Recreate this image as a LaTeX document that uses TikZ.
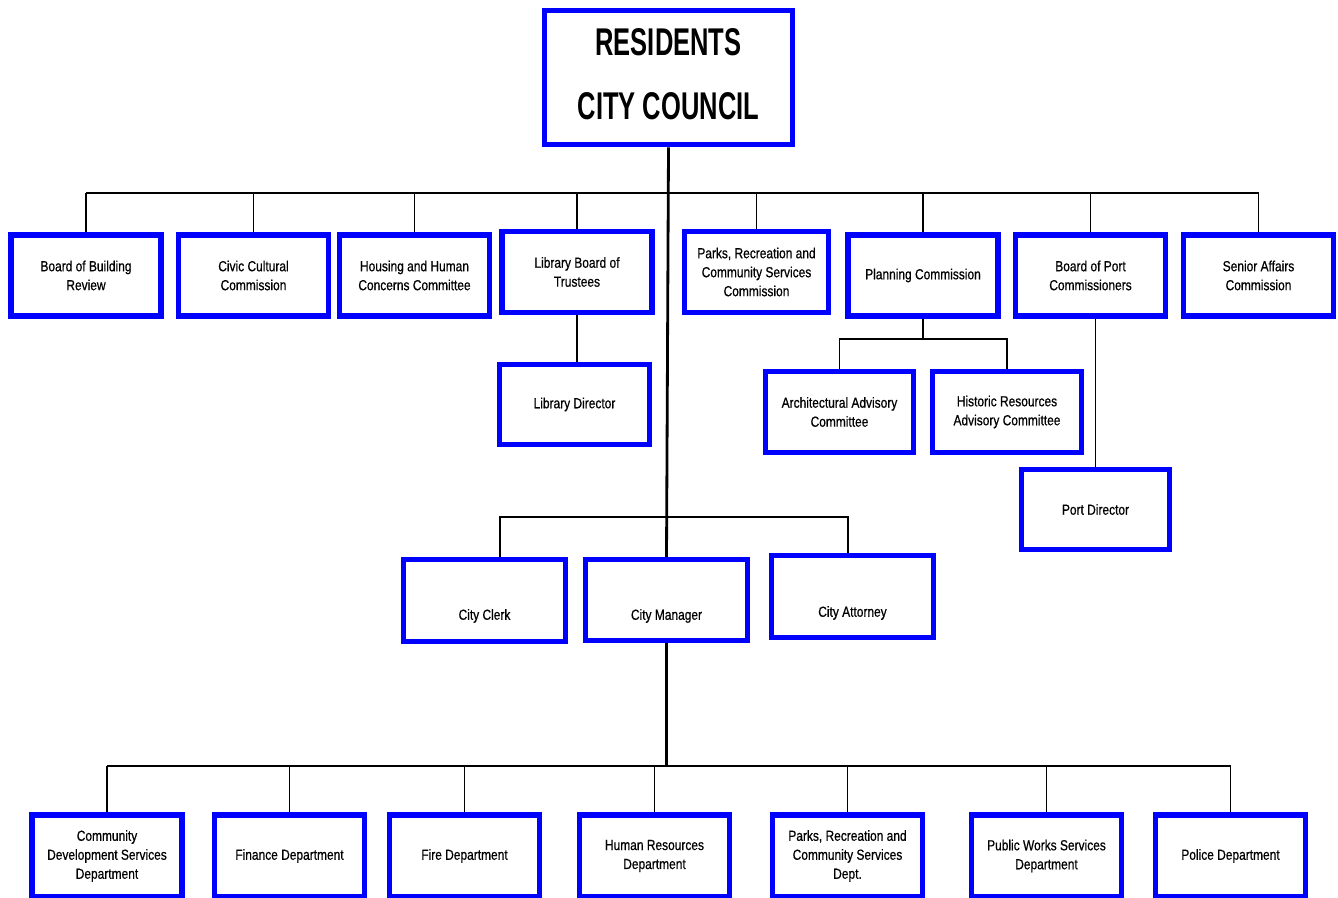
\documentclass[tikz,border=0pt]{standalone}
\usepackage{fontspec}
\usepackage{tikz}
\usetikzlibrary{positioning}
\newfontfamily\orgfont[FakeStretch=0.82,FakeBold=0.6]{Liberation Sans}
\newfontfamily\headfont[FakeStretch=0.66]{Liberation Sans}

\begin{document}
\begin{tikzpicture}[
    x=0.02cm, y=-0.02cm, % pixel grid of the chart
    box/.style={draw=blue, line width=3pt, fill=white, minimum width=3cm,
      minimum height=1.62cm, inner sep=1pt, align=center,
      font=\orgfont\fontsize{8.3}{10.8}\selectfont},
    txt/.style={align=center, font=\orgfont\fontsize{8.3}{10.8}\selectfont},
    dept/.style={box, minimum height=1.64cm},
    bus/.style={line width=1.6pt},
    drop/.style={line width=0.8pt}
  ]
  \useasboundingbox (0,0) rectangle (1338,898);
  %% top
  \node[box, line width=3.2pt, minimum width=4.96cm, minimum height=2.68cm,
    label={[font=\headfont\bfseries\fontsize{22}{26}\selectfont,align=center,yshift=0.06cm]center:RESIDENTS\\[0.36cm]CITY COUNCIL}]
    (council) at (668.5,77.5) {};
  %% boards and commissions
  \node[box] (b1) at (86,275.5) {Board of Building\\Review};
  \node[box] (b2) at (253.5,275.5) {Civic Cultural\\Commission};
  \node[box] (b3) at (414.5,275.5) {Housing and Human\\Concerns Committee};
  \node[box] (b4) at (577,272) {Library Board of\\Trustees};
  \node[box, minimum width=2.88cm] (b5) at (756.5,272) {Parks, Recreation and\\Community Services\\Commission};
  \node[box] (b6) at (923,275.5) {Planning Commission};
  \node[box] (b7) at (1090.5,275.5) {Board of Port\\Commissioners};
  \node[box] (b8) at (1258.5,275.5) {Senior Affairs\\Commission};
  \node[box, minimum height=1.6cm] (libdir) at (574.5,404.5) {Library Director};
  \node[box, minimum width=2.96cm] (arch) at (839.5,412) {Architectural Advisory\\Committee};
  \node[box, minimum width=2.98cm] (hist) at (1007,412) {Historic Resources\\Advisory Committee};
  \node[box, minimum width=2.96cm, minimum height=1.6cm] (portdir) at (1095.5,509.5) {Port Director};
  %% officers
  \node[box, minimum width=3.24cm, minimum height=1.64cm,
    label={[txt,yshift=-0.31cm]center:City Clerk}] (clerk) at (484.5,600.5) {};
  \node[box, minimum width=3.24cm, minimum height=1.62cm,
    label={[txt,yshift=-0.32cm]center:City Manager}] (cmgr) at (666.5,600) {};
  \node[box, minimum width=3.24cm, minimum height=1.64cm,
    label={[txt,yshift=-0.33cm]center:City Attorney}] (atty) at (852.5,596.5) {};
  %% departments
  \node[dept] (d1) at (107,856) {Community\\Development Services\\Department};
  \node[dept] (d2) at (289.5,856) {Finance Department};
  \node[dept] (d3) at (464.5,856) {Fire Department};
  \node[dept] (d4) at (654.5,856) {Human Resources\\Department};
  \node[dept] (d5) at (847.5,856) {Parks, Recreation and\\Community Services\\Dept.};
  \node[dept] (d6) at (1046.5,856) {Public Works Services\\Department};
  \node[dept] (d7) at (1230.5,856) {Police Department};
  %% path
  \coordinate (bus1) at (0,193);
  \coordinate (bus2) at (0,517);
  \coordinate (bus3) at (0,766);
  \coordinate (plbus) at (0,339);
  \draw[bus] (council.south) -- (cmgr.north);
  \draw[bus] (b1.north |- bus1) -- (b8.north |- bus1);
  \foreach \n in {b1,b2,b3,b4,b5,b6,b7,b8}
    \draw[drop] (\n.north) -- (\n.north |- bus1);
  \draw[drop] (b4.south) -- (b4.south |- libdir.north);
  \draw[drop] (b6.south) -- (b6.south |- plbus);
  \draw[drop] (arch.north) -- (arch.north |- plbus) -- (hist.north |- plbus) -- (hist.north);
  \draw[drop] (portdir.north) -- (portdir.north |- b7.south);
  \draw[drop] ([xshift=0.31cm]clerk.north) -- ([xshift=0.31cm]clerk.north |- bus2)
    -- ([xshift=-0.09cm]atty.north |- bus2) -- ([xshift=-0.09cm]atty.north);
  \draw[bus] (cmgr.south) -- (cmgr.south |- bus3);
  \draw[bus] (d1.north |- bus3) -- (d7.north |- bus3);
  \foreach \n in {d1,d2,d3,d4,d5,d6,d7}
    \draw[drop] (\n.north) -- (\n.north |- bus3);
\end{tikzpicture}
\end{document}
